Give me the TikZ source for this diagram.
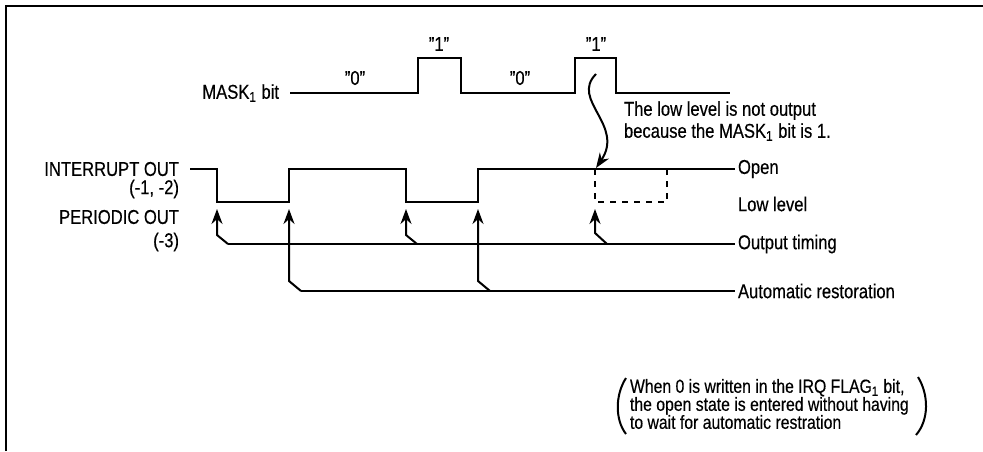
\documentclass[tikz,border=0pt]{standalone}
\usepackage{fontspec}
\setmainfont{Liberation Sans}[FakeStretch=0.83, FakeBold=0.4]
\usetikzlibrary{arrows.meta}

\begin{document}
\begin{tikzpicture}[x=0.5pt, y=-0.5pt, line width=1pt, >={Stealth[length=7.5pt, width=5.5pt]},
    lbl/.style={font=\fontsize{10}{11}\selectfont, inner sep=1pt},
    note/.style={font=\fontsize{9.5}{9}\selectfont, inner sep=1pt, align=left}]

    \useasboundingbox (0,0) rectangle (983,451);
    \draw[line width=1.3pt] (6,451) -- (6,6) -- (983,6);

    % signal names
    \node[lbl, anchor=east] (mask) at (282,93) {MASK\textsubscript{1} bit};
    \node[lbl, anchor=east] (int) at (182,169) {INTERRUPT OUT};
    \node[lbl, anchor=east] (intn) at (182,189) {(-1, -2)};
    \node[lbl, anchor=east] (per) at (182,217) {PERIODIC OUT};
    \node[lbl, anchor=east] (pern) at (182,242) {(-3)};

    \node[lbl, anchor=west] (open) at (735,169) {Open};
    \node[lbl, anchor=west] (low) at (735,204) {Low level};
    \node[lbl, anchor=west] (timing) at (735,244) {Output timing};
    \node[lbl, anchor=west] (auto) at (735,291) {Automatic restoration};

    \node[lbl] (m0) at (355,78) {"0"};
    \node[lbl] (m1) at (439,44) {"1"};
    \node[lbl] (m2) at (520,78) {"0"};
    \node[lbl] (m3) at (596,44) {"1"};

    \node[lbl, anchor=west, align=left] (why) at (621,121) {The low level is not output\\because the MASK\textsubscript{1} bit is 1.};

    % waveforms
    \draw (290,93) -- (418,93) -- (418,58) -- (461,58) -- (461,93) -- (575,93) -- (575,58) -- (616,58) -- (616,93) -- (730,93);
    \draw (190,169) -- (217,169) -- (217,202) -- (289,202) -- (289,169) -- (406,169) -- (406,202) -- (478,202) -- (478,169) -- (open.west);
    \draw[dashed] (595,169) -- (595,202) -- (667,202) -- (667,169);

    % output timing
    \coordinate (t1) at (228,244);
    \coordinate (t2) at (417,244);
    \coordinate (t3) at (607,244);
    \draw (t1) -- (timing.west);
    \draw[->] (t1) -- (217,235) -- (217,209);
    \draw[->] (t2) -- (406,235) -- (406,209);
    \draw[->] (t3) -- (595,233) -- (595,209);

    % automatic restoration
    \coordinate (r1) at (301,291);
    \coordinate (r2) at (490,291);
    \draw (r1) -- (auto.west);
    \draw[->] (r1) -- (289,281) -- (289,209);
    \draw[->] (r2) -- (478,281) -- (478,209);

    \draw[->] (596,74) .. controls (570,100) and (625,125) .. (596,168);

    % remark
    \node[note, anchor=west] (irq) at (627,404) {When 0 is written in the IRQ FLAG\textsubscript{1} bit,\\the open state is entered without having\\to wait for automatic restration};
    \draw (626,378) .. controls (615,395) and (615,420) .. (626,434);
    \draw (918,377) .. controls (929,395) and (929,420) .. (916,435);

\end{tikzpicture}
\end{document}
